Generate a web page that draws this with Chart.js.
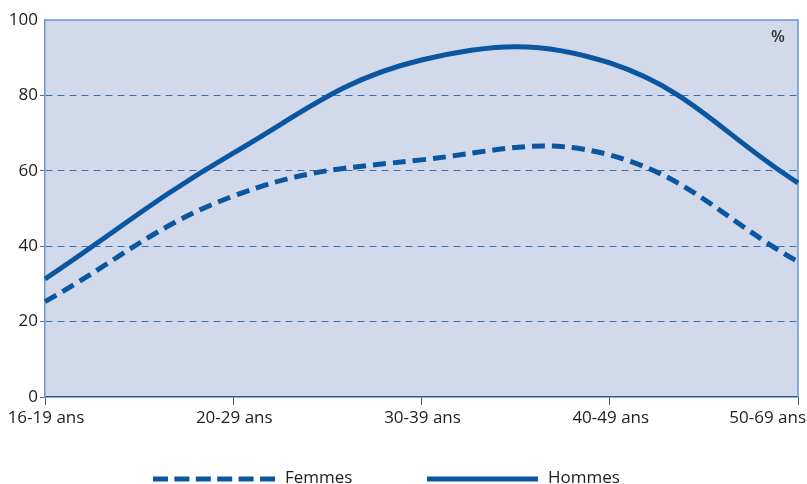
<!DOCTYPE html>
<html>
<head>
<meta charset="utf-8">
<script src="https://cdn.jsdelivr.net/npm/chart.js@4"></script>
<style>
  html, body { margin: 0; padding: 0; background: #fff; }
  #wrap { width: 807px; height: 484px; }
</style>
</head>
<body>
<div id="wrap"><canvas id="chart"></canvas></div>
<script>
  // Data
  const ageGroups = ['16-19 ans', '20-29 ans', '30-39 ans', '40-49 ans', '50-69 ans'];
  const femmes = [25.3, 53.3, 62.9, 64.2, 35.9];
  const hommes = [31.3, 64.7, 89.4, 88.6, 56.8];
  const yTicks = [0, 20, 40, 60, 80, 100];

  const blue = '#0a56a0';
  const plotBg = '#d1d9ea';
  const frameBlue = '#6b97cc';
  const font = "'Open Sans', 'Noto Sans', sans-serif";

  // plot background, frame, x labels, % and legend
  const decor = {
    id: 'decor',
    beforeDraw(chart) {
      const { ctx, chartArea: a } = chart;
      ctx.save();
      ctx.fillStyle = plotBg;
      ctx.fillRect(a.left, a.top, a.right - a.left, a.bottom - a.top);
      ctx.restore();
    },
    beforeDatasetsDraw(chart) {
      const { ctx, chartArea: a } = chart;
      ctx.save();
      ctx.strokeStyle = frameBlue;
      ctx.lineWidth = 1.5;
      ctx.beginPath();
      ctx.moveTo(a.left, a.top);
      ctx.lineTo(a.right, a.top);
      ctx.lineTo(a.right, a.bottom);
      ctx.stroke();
      ctx.restore();
    },
    afterDraw(chart) {
      const { ctx, chartArea: a } = chart;
      const xs = chart.scales.x;
      ctx.save();
      ctx.font = '17px ' + font;
      ctx.fillStyle = '#222';
      ctx.textBaseline = 'alphabetic';
      ctx.textAlign = 'left';
      ageGroups.forEach((lab, i) => {
        const w = ctx.measureText(lab).width;
        let x = xs.getPixelForTick(i) - w / 2 + 1;
        if (x + w > chart.width - 1) x = chart.width - 1 - w;
        ctx.fillText(lab, x, 423);
      });

      ctx.font = '600 16px ' + font;
      ctx.fillStyle = '#333';
      ctx.fillText('%', a.right - 27, 42);

      // legend
      const items = [
        { ds: chart.data.datasets[0], x: 153, w: 122 },
        { ds: chart.data.datasets[1], x: 427, w: 111 }
      ];
      ctx.font = '17px ' + font;
      items.forEach(it => {
        ctx.save();
        ctx.strokeStyle = it.ds.borderColor;
        ctx.lineWidth = 5;
        ctx.lineCap = 'butt';
        ctx.setLineDash(it.ds.borderDash ? [15, 6.4] : []);
        ctx.beginPath();
        ctx.moveTo(it.x, 479);
        ctx.lineTo(it.x + it.w, 479);
        ctx.stroke();
        ctx.restore();
        ctx.fillStyle = '#222';
        ctx.fillText(it.ds.label, it.x + it.w + 10, 483);
      });
      ctx.restore();
    }
  };

  new Chart(document.getElementById('chart'), {
    type: 'line',
    data: {
      labels: ageGroups,
      datasets: [{
        label: 'Femmes',
        data: femmes,
        borderColor: blue,
        borderWidth: 5,
        borderDash: [13, 7],
        pointRadius: 0,
        tension: 0.4,
        fill: false
      }, {
        label: 'Hommes',
        data: hommes,
        borderColor: blue,
        borderWidth: 5,
        pointRadius: 0,
        tension: 0.4,
        fill: false
      }]
    },
    options: {
      responsive: true,
      maintainAspectRatio: false,
      animation: false,
      layout: { padding: { top: 20, right: 9, left: 0, bottom: 77 } },
      plugins: {
        legend: { display: false },
        tooltip: { enabled: false }
      },
      scales: {
        x: {
          ticks: { display: false },
          grid: {
            drawOnChartArea: false,
            drawTicks: true,
            tickLength: 8,
            tickColor: '#555',
            tickWidth: 1
          },
          border: { color: '#1f5aa0', width: 1.5 },
          afterFit(scale) {
            scale.height = 10;
            scale.paddingLeft = 0;
            scale.paddingRight = 0;
          }
        },
        y: {
          min: 0,
          max: 100,
          afterBuildTicks(scale) {
            scale.ticks = yTicks.map(v => ({ value: v }));
          },
          ticks: {
            padding: 2,
            color: '#222',
            font: { family: font, size: 17 }
          },
          grid: {
            tickLength: 5,
            lineWidth: 1,
            color: ctx => (ctx.tick && (ctx.tick.value === 0 || ctx.tick.value === 100)) ? 'rgba(0,0,0,0)' : '#3c70b4',
            tickColor: ctx => (ctx.tick && ctx.tick.value === 100) ? 'rgba(0,0,0,0)' : '#3c70b4',
            tickBorderDash: [5, 0]
          },
          border: { color: frameBlue, width: 1.5, dash: [7, 5] },
          afterFit(scale) {
            scale.width = 45;
          }
        }
      }
    },
    plugins: [decor]
  });
</script>
</body>
</html>
